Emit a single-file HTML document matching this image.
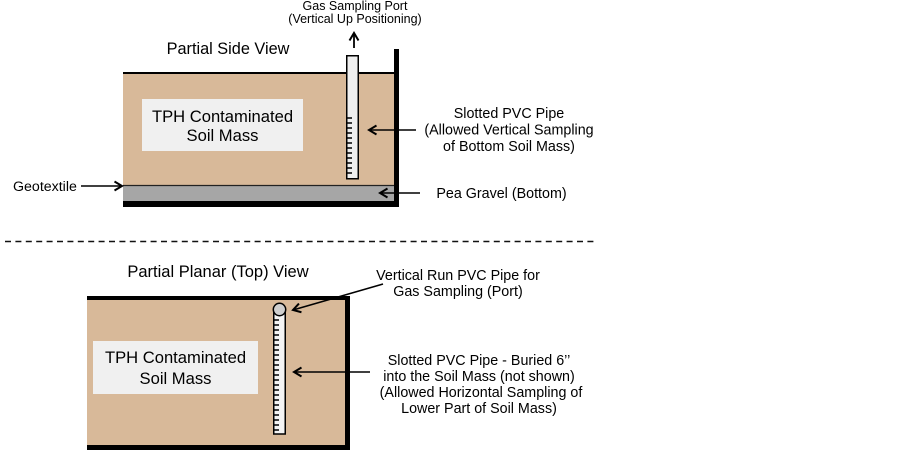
<!DOCTYPE html>
<html><head><meta charset="utf-8"><style>
html,body{margin:0;padding:0;background:#fff;}
svg{display:block;}
text{font-family:"Liberation Sans",Arial,sans-serif;fill:#000;}
</style></head><body>
<svg width="903" height="450" viewBox="0 0 903 450" xmlns="http://www.w3.org/2000/svg">
<defs>
<marker id="ah" markerUnits="userSpaceOnUse" markerWidth="14" markerHeight="14" refX="9" refY="6" orient="auto">
<path d="M1.5,1.5 L9,6 L1.5,10.5" fill="none" stroke="#000" stroke-width="2"/>
</marker>
</defs>

<!-- ===== Side view ===== -->
<text x="355" y="10" font-size="12.5" text-anchor="middle">Gas Sampling Port</text>
<text x="355" y="23" font-size="12.5" text-anchor="middle">(Vertical Up Positioning)</text>
<line x1="354" y1="48" x2="354" y2="33" stroke="#000" stroke-width="1.8" marker-end="url(#ah)"/>

<text x="228" y="54" font-size="16.3" text-anchor="middle">Partial Side View</text>

<rect x="123" y="73" width="271" height="112" fill="#d8b999"/>
<line x1="123" y1="73" x2="395" y2="73" stroke="#000" stroke-width="2"/>
<rect x="123" y="185.5" width="271" height="16" fill="#a6a6a6"/>
<line x1="123" y1="185.5" x2="394" y2="185.5" stroke="#222" stroke-width="1.2"/>
<rect x="123" y="201" width="276" height="6" fill="#000"/>
<rect x="394" y="49" width="5" height="158" fill="#000"/>

<rect x="142" y="99" width="161" height="52" fill="#f0f0f0"/>
<text x="222.5" y="122" font-size="16.6" text-anchor="middle">TPH Contaminated</text>
<text x="222.5" y="141" font-size="16.6" text-anchor="middle">Soil Mass</text>

<rect x="346.75" y="55.75" width="11.5" height="123" fill="#efefef" stroke="#000" stroke-width="1.5"/>
<g stroke="#000" stroke-width="1.5">
<line x1="346" y1="118" x2="352" y2="118"/>
<line x1="346" y1="123" x2="352" y2="123"/>
<line x1="346" y1="128" x2="352" y2="128"/>
<line x1="346" y1="133" x2="352" y2="133"/>
<line x1="346" y1="138" x2="352" y2="138"/>
<line x1="346" y1="143" x2="352" y2="143"/>
<line x1="346" y1="148" x2="352" y2="148"/>
<line x1="346" y1="153" x2="352" y2="153"/>
<line x1="346" y1="158" x2="352" y2="158"/>
<line x1="346" y1="163" x2="352" y2="163"/>
<line x1="346" y1="168" x2="352" y2="168"/>
<line x1="346" y1="173" x2="352" y2="173"/>
</g>

<line x1="416" y1="130" x2="369" y2="130" stroke="#000" stroke-width="1.6" marker-end="url(#ah)"/>
<text x="509" y="118" font-size="14.3" text-anchor="middle">Slotted PVC Pipe</text>
<text x="509" y="134.5" font-size="14.3" text-anchor="middle">(Allowed Vertical Sampling</text>
<text x="509" y="151" font-size="14.3" text-anchor="middle">of Bottom Soil Mass)</text>

<line x1="420" y1="193" x2="380" y2="193" stroke="#000" stroke-width="1.6" marker-end="url(#ah)"/>
<text x="501.5" y="198" font-size="14.3" text-anchor="middle">Pea Gravel (Bottom)</text>

<text x="13" y="191" font-size="14.2">Geotextile</text>
<line x1="81" y1="186" x2="122" y2="186" stroke="#000" stroke-width="1.6" marker-end="url(#ah)"/>

<!-- dashed separator -->
<line x1="5" y1="241.5" x2="597" y2="241.5" stroke="#111" stroke-width="1.6" stroke-dasharray="6 4.4"/>

<!-- ===== Planar view ===== -->
<text x="218" y="277" font-size="16.5" text-anchor="middle">Partial Planar (Top) View</text>

<rect x="87" y="298" width="260" height="150" fill="#d8b999"/>
<rect x="87" y="296" width="263" height="4" fill="#000"/>
<rect x="87" y="445" width="263" height="5" fill="#000"/>
<rect x="345" y="296" width="5" height="154" fill="#000"/>

<rect x="93" y="341" width="165" height="53" fill="#f0f0f0"/>
<text x="175.5" y="363" font-size="16.6" text-anchor="middle">TPH Contaminated</text>
<text x="175.5" y="384" font-size="16.6" text-anchor="middle">Soil Mass</text>

<rect x="273.75" y="309" width="11.5" height="125" fill="#f4f4f4" stroke="#000" stroke-width="1.5"/>
<circle cx="279.5" cy="309.5" r="6.2" fill="#cfcfcf" stroke="#000" stroke-width="1.5"/>
<g stroke="#000" stroke-width="1.5">
<line x1="273" y1="320" x2="279" y2="320"/>
<line x1="273" y1="325" x2="279" y2="325"/>
<line x1="273" y1="330" x2="279" y2="330"/>
<line x1="273" y1="335" x2="279" y2="335"/>
<line x1="273" y1="340" x2="279" y2="340"/>
<line x1="273" y1="345" x2="279" y2="345"/>
<line x1="273" y1="350" x2="279" y2="350"/>
<line x1="273" y1="355" x2="279" y2="355"/>
<line x1="273" y1="360" x2="279" y2="360"/>
<line x1="273" y1="365" x2="279" y2="365"/>
<line x1="273" y1="370" x2="279" y2="370"/>
<line x1="273" y1="375" x2="279" y2="375"/>
<line x1="273" y1="380" x2="279" y2="380"/>
<line x1="273" y1="385" x2="279" y2="385"/>
<line x1="273" y1="390" x2="279" y2="390"/>
<line x1="273" y1="395" x2="279" y2="395"/>
<line x1="273" y1="400" x2="279" y2="400"/>
<line x1="273" y1="405" x2="279" y2="405"/>
<line x1="273" y1="410" x2="279" y2="410"/>
<line x1="273" y1="415" x2="279" y2="415"/>
<line x1="273" y1="420" x2="279" y2="420"/>
<line x1="273" y1="425" x2="279" y2="425"/>
<line x1="273" y1="430" x2="279" y2="430"/>
</g>

<line x1="383" y1="284" x2="293" y2="310" stroke="#000" stroke-width="1.6" marker-end="url(#ah)"/>
<text x="458" y="280" font-size="14.3" text-anchor="middle">Vertical Run PVC Pipe for</text>
<text x="458" y="296" font-size="14.3" text-anchor="middle">Gas Sampling (Port)</text>

<line x1="370" y1="372" x2="294" y2="372" stroke="#000" stroke-width="1.6" marker-end="url(#ah)"/>
<text x="479" y="365" font-size="14.3" text-anchor="middle">Slotted PVC Pipe - Buried 6’’</text>
<text x="479" y="381" font-size="14.3" text-anchor="middle">into the Soil Mass (not shown)</text>
<text x="481" y="397" font-size="14.3" text-anchor="middle">(Allowed Horizontal Sampling of</text>
<text x="479" y="413" font-size="14.3" text-anchor="middle">Lower Part of Soil Mass)</text>
</svg>
</body></html>
